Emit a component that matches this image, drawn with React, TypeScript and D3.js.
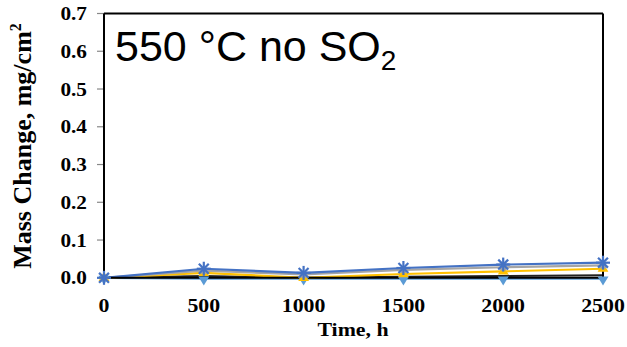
import React from "react";
import * as d3 from "d3";

const times = [0, 500, 1000, 1500, 2000, 2500];
const seriesBlue = [0, 0.024, 0.013, 0.026, 0.035, 0.040];
const seriesGray = [0, 0.019, 0.009, 0.021, 0.028, 0.033];
const seriesYellow = [0, 0.013, 0.0, 0.010, 0.017, 0.024];
const seriesDark = [0, 0.005, 0.0, 0.003, 0.005, 0.007];
const seriesLight = [0, -0.002, -0.002, -0.002, -0.002, -0.002];
const yTicks = [0, 0.1, 0.2, 0.3, 0.4, 0.5, 0.6, 0.7];
const xTicks = [0, 500, 1000, 1500, 2000, 2500];

const W = 627, H = 347;
const L = 104, R = 603, T = 13.5, B = 277.8;

export default function App() {
  const x = d3.scaleLinear().domain([0, 2500]).range([L, R]);
  const y = d3.scaleLinear().domain([0, 0.7]).range([B, T]);
  const line = d3.line<number>().x((_, i) => x(times[i])).y((v) => y(v));
  const serif = "'Liberation Serif', 'Times New Roman', serif";
  const sans = "'Liberation Sans', Arial, sans-serif";

  const star = (cx: number, cy: number, color: string, key: string) => {
    const r = 7;
    const segs = [0, 45, 90, 135].map((a) => {
      const rad = (a * Math.PI) / 180;
      return (
        <line key={a} x1={cx - r * Math.cos(rad)} y1={cy - r * Math.sin(rad)} x2={cx + r * Math.cos(rad)} y2={cy + r * Math.sin(rad)} stroke={color} strokeWidth={2.2} />
      );
    });
    return <g key={key}>{segs}</g>;
  };

  return (
    <svg width={W} height={H} style={{ position: "absolute", left: 0, top: 0, background: "#fff" }}>
      <rect x={0} y={0} width={W} height={H} fill="#fff" />
      {/* y ticks */}
      {yTicks.map((t) => (
        <g key={t}>
          <line x1={L - 7} x2={L} y1={y(t)} y2={y(t)} stroke="#888" strokeWidth={1.2} />
          <text transform={`translate(87,${y(t) + 6.5}) scale(1.12,1)`} textAnchor="end" fontFamily={serif} fontWeight="bold" fontSize={19}>
            {t.toFixed(1)}
          </text>
        </g>
      ))}
      {xTicks.map((t) => (
        <text key={t} transform={`translate(${x(t)},312) scale(1.15,1)`} textAnchor="middle" fontFamily={serif} fontWeight="bold" fontSize={19}>
          {t}
        </text>
      ))}
      {/* series lines */}
      <path d={line(seriesLight) || ""} fill="none" stroke="#5B9BD5" strokeWidth={2.2} />
      <path d={line(seriesDark) || ""} fill="none" stroke="#222" strokeWidth={2} />
      <path d={line(seriesYellow) || ""} fill="none" stroke="#FFC000" strokeWidth={2.2} />
      <path d={line(seriesGray) || ""} fill="none" stroke="#A5A5A5" strokeWidth={2.2} />
      <path d={line(seriesBlue) || ""} fill="none" stroke="#4472C4" strokeWidth={2.2} />
      {/* frame */}
      <line x1={L} x2={R} y1={T} y2={T} stroke="#000" strokeWidth={2} />
      <line x1={R} x2={R} y1={T} y2={B} stroke="#000" strokeWidth={2} />
      <line x1={L} x2={L} y1={T} y2={B} stroke="#000" strokeWidth={2} />
      <line x1={L} x2={R} y1={B} y2={B} stroke="#000" strokeWidth={2} />
      {/* markers */}
      {seriesLight.map((v, i) => (
        <path key={"l" + i} d={`M${x(times[i]) - 5.5},${y(v) - 2} L${x(times[i]) + 5.5},${y(v) - 2} L${x(times[i])},${y(v) + 7} Z`} fill="#5B9BD5" />
      ))}
      {seriesYellow.map((v, i) => (
        <path key={"y" + i} d={d3.symbol(d3.symbolTriangle, 50)() || ""} transform={`translate(${x(times[i])},${y(v)})`} fill="#FFC000" />
      ))}
      {seriesGray.map((v, i) => (
        <path key={"g" + i} d={d3.symbol(d3.symbolCross, 35)() || ""} transform={`translate(${x(times[i])},${y(v)}) rotate(45)`} fill="#A5A5A5" />
      ))}
      {seriesBlue.map((v, i) => star(x(times[i]), y(v), "#4472C4", "b" + i))}
      {/* annotation */}
      <text x={115} y={61} fontFamily={sans} fontSize={43} fill="#000">
        550 °C no SO<tspan fontSize={28} dy={9}>2</tspan>
      </text>
      {/* axis titles */}
      <text transform="translate(353,336) scale(1.15,1)" textAnchor="middle" fontFamily={serif} fontWeight="bold" fontSize={19}>
        Time, h
      </text>
      <text transform={`translate(31,146) rotate(-90)`} textAnchor="middle" fontFamily={serif} fontWeight="bold" fontSize={26}>
        Mass Change, mg/cm<tspan fontSize={16} dy={-10}>2</tspan>
      </text>
    </svg>
  );
}
